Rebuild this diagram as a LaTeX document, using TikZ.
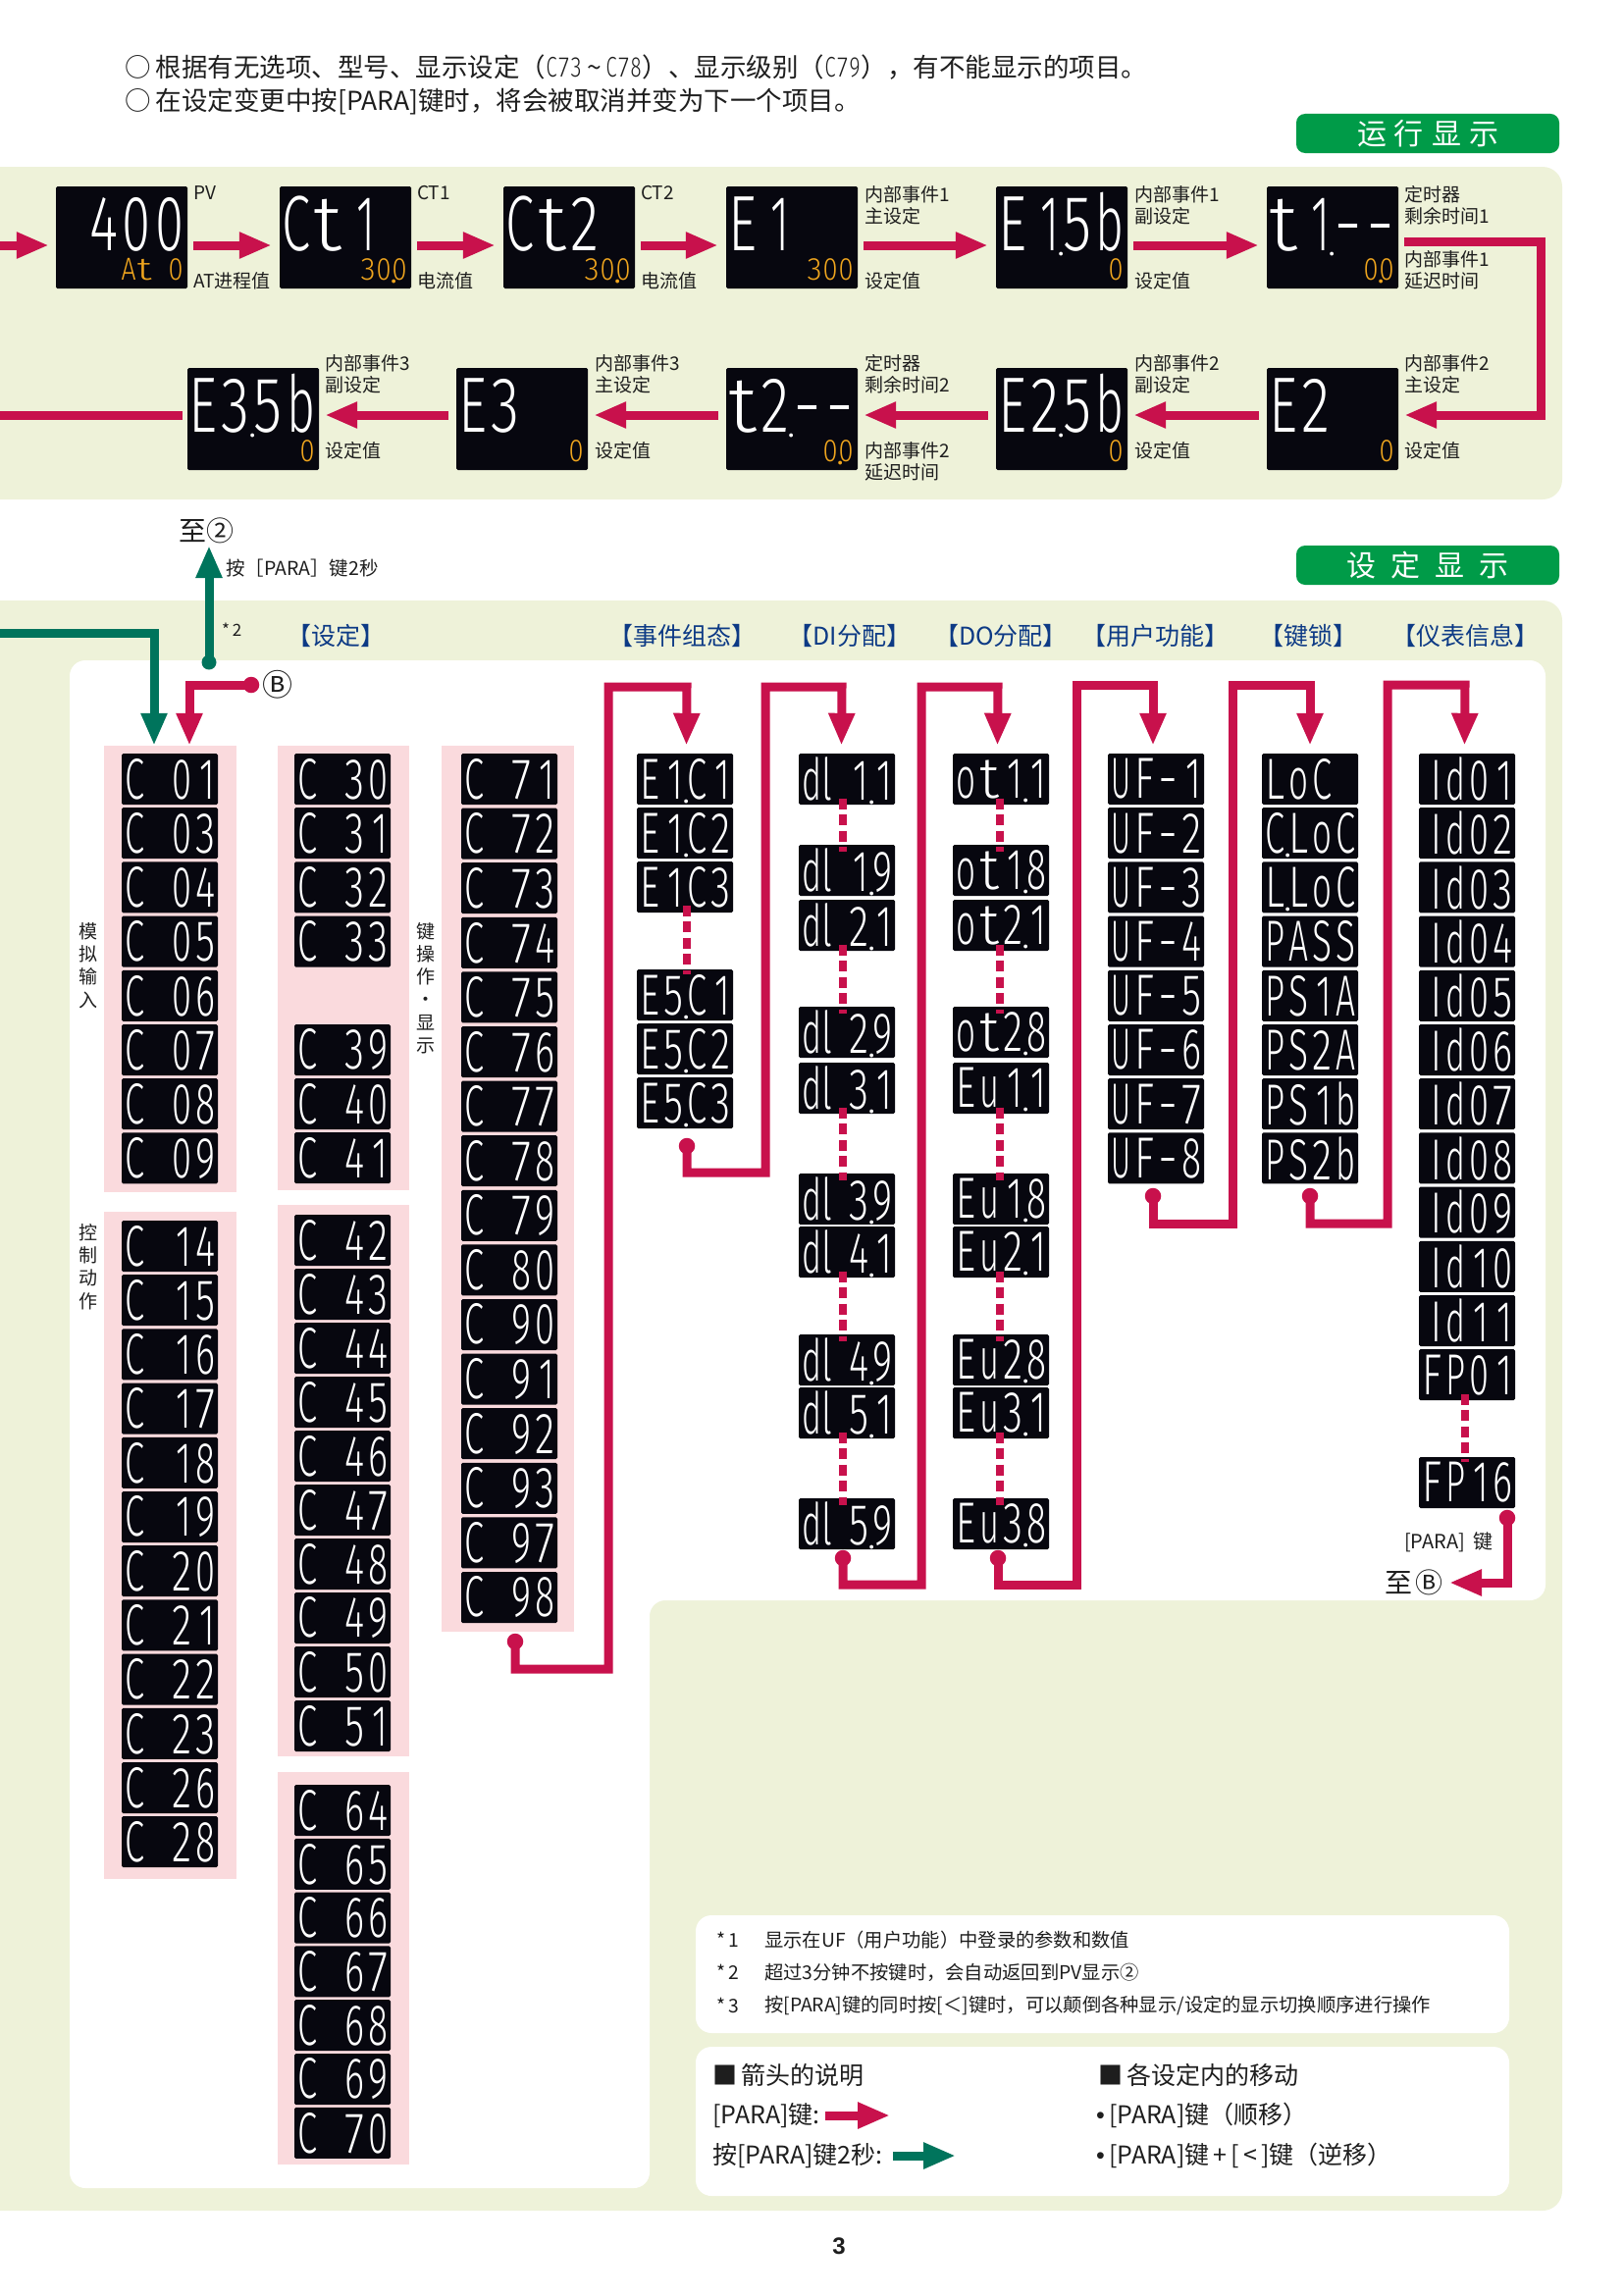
\documentclass[tikz,border=0pt]{standalone}
\usepackage{fontspec}
\usepackage{graphicx}
\usetikzlibrary{arrows.meta,calc}
\setmainfont{Noto Sans CJK SC}
\newfontfamily\lcdfamily{Fira Sans Light}
\newfontfamily\arialfamily{Liberation Sans}
\definecolor{cr}{HTML}{C8114C}
\definecolor{gn}{HTML}{00745C}
\definecolor{badge}{HTML}{009B48}
\definecolor{panel}{HTML}{EEF2D9}
\definecolor{pk}{HTML}{FADADD}
\definecolor{lcdbg}{HTML}{07070F}
\definecolor{amber}{HTML}{EFA51E}
\definecolor{hblue}{HTML}{0D3A85}
\definecolor{ink}{HTML}{1E1E1E}
% seven-segment look: every character in a fixed cell, stretched tall
\def\lcdend{\lcdend}
\newcommand\lcdset[7]{\lcdfamily\fontsize{20}{20}\selectfont
  \def\lcdW{#1}\def\lcdP{#2}\def\lcdSY{#3}\def\lcdSX{#4}\def\lcdG{#5}\def\lcdDK{#6}\def\lcdDR{#7}}
\def\lcdloop#1{\ifx#1\lcdend\else
  \ifx.#1\rlap{\kern\lcdDK\smash{\raisebox{\lcdDR}{\scalebox{2}{.}}}}\else
  \ifx*#1\hbox to\lcdP{}\else
  \ifx l#1\hbox to\lcdP{\kern-1.5pt\scalebox{\lcdSX}[\lcdSY]{l}\hss}\else
  \hbox to\lcdP{\hss\scalebox{1}[\lcdSY]{\ifx1#1\scalebox{\lcdSX}[1]{1}\else\ifx I#1\scalebox{\lcdSX}[1]{I}\else\resizebox{\lcdW}{\height}{#1}\fi\fi}\kern\lcdG}%
  \fi\fi\fi\expandafter\lcdloop\fi}
\newcommand\lcdshow[1]{\hbox{\expandafter\lcdloop#1\lcdend}}
\newcommand\inlcd[1]{\hbox{\lcdset{11pt}{12.5pt}{1.45}{1.0}{1pt}{-2pt}{-2pt}\expandafter\lcdloop#1\lcdend}}
\tikzset{
  x=1pt,y=-1pt,
  lcdsm/.style={fill=lcdbg,rounded corners=1.5pt,minimum width=98pt,minimum height=52pt,inner sep=0pt,text=white,
    font={\lcdset{20pt}{24pt}{2.95}{1.9}{1.5pt}{-2.5pt}{-4pt}}},
  lcdbox/.style={fill=lcdbg,rounded corners=1.5pt,minimum width=134pt,minimum height=104pt,inner sep=0pt},
  lcdtop/.style={anchor=base east,inner sep=0pt,text=white,
    font={\lcdset{29pt}{33pt}{4.0}{2.3}{1pt}{-3pt}{-5pt}}},
  lcdbot/.style={anchor=base east,inner sep=0pt,text=amber,
    font={\lcdset{15pt}{16pt}{1.62}{1.2}{.5pt}{-2pt}{-3pt}}},
  lab/.style={anchor=west,inner sep=0pt,text=ink,font=\fontsize{19}{22}\selectfont},
  vlab/.style={inner sep=0pt,text=ink,align=center,font=\fontsize{19}{23.3}\selectfont},
  head/.style={inner sep=0pt,text=hblue,font=\fontsize{25}{27}\selectfont},
  badgebox/.style={fill=badge,rounded corners=9pt,minimum width=268pt,minimum height=40pt,inner sep=0pt,text=white,font=\fontsize{30}{32}\selectfont},
  redarrow/.style={draw=cr,line width=9pt,-{Triangle[length=33pt,width=25pt]}},
  greenarrow/.style={draw=gn,line width=9pt,-{Triangle[length=33pt,width=25pt]}},
  redline/.style={draw=cr,line width=9pt},
  redstart/.style={circle,fill=cr,minimum size=16.5pt,inner sep=0pt},
  greenstart/.style={circle,fill=gn,minimum size=15pt,inner sep=0pt},
  dotv/.style={draw=cr,line width=8pt,dash pattern=on 11pt off 5.5pt},
  note/.style={anchor=west,inner sep=0pt,text=ink,font=\fontsize{19.3}{22}\selectfont},
  leg/.style={anchor=west,inner sep=0pt,text=ink,font=\fontsize{25}{28}\selectfont},
  top/.style={anchor=west,inner sep=0pt,text=ink,font=\fontsize{26.5}{29}\selectfont},
}
% regular column: prefix, left x, first y, pitch, list
\newcommand\lcdcol[5]{\foreach \t [count=\i] in {#5}{%
  \node[lcdsm] (#1\i) at ({#2+49},{#3+(\i-1)*#4+26}) {\lcdshow\t};}}
% irregular column: prefix, left x, list of text/y
\newcommand\lcdlist[3]{\foreach \t/\yy [count=\i] in {#3}{%
  \node[lcdsm] (#1\i) at ({#2+49},{\yy+26}) {\lcdshow\t};}}
% large two-line display: name, left x, top y, upper, lower
\newcommand\biglcd[5]{%
  \node[lcdbox] (#1) at ({#2+67},{#3+52}) {};
  \node[lcdtop] (#1t) at ($(#1.north east)+(-3,66)$) {\lcdshow{#4}};
  \node[lcdbot] (#1b) at ($(#1.north east)+(-4,96)$) {\lcdshow{#5}};}
\begin{document}
\begin{tikzpicture}
\useasboundingbox (0,0) rectangle (1654,2339);
% panels
\fill[panel] (0,170) [rounded corners=20pt] -- (1592,170) -- (1592,509) [sharp corners] -- (0,509) -- cycle;
\fill[panel] (0,612) [rounded corners=20pt] -- (1592,612) -- (1592,2253) [sharp corners] -- (0,2253) -- cycle;
\fill[white,rounded corners=16pt] (71,673) -- (1575,673) -- (1575,1631) -- (662,1631) -- (662,2230) -- (71,2230) -- cycle;
\fill[white,rounded corners=16pt] (709,1952) rectangle (1538,2072);
\fill[white,rounded corners=16pt] (709,2086) rectangle (1538,2238);
\node[badgebox] (runbadge) at (1455,136) {运\hspace{8pt}行\hspace{8pt}显\hspace{8pt}示};
\node[badgebox] (setbadge) at (1455,576) {设\hspace{15pt}定\hspace{15pt}显\hspace{15pt}示};
% intro text
\node[top] (intro1) at (127,69) {○\hspace{5pt}根据有无选项、型号、显示设定（\inlcd{C73}\,\string~\,\inlcd{C78}）、显示级别（\inlcd{C79}），有不能显示的项目。};
\node[top] (intro2) at (127,104) {○\hspace{5pt}在设定变更中按[PARA]键时，将会被取消并变为下一个项目。};
% run displays
\biglcd{pv}{57}{190}{*400}{At*0}
\biglcd{ctA}{285}{190}{Ct1*}{30.0}
\biglcd{ctB}{513}{190}{Ct2*}{30.0}
\biglcd{evA}{740}{190}{E1**}{300}
\biglcd{evAs}{1015}{190}{E1.5b}{0}
\biglcd{tmA}{1291}{190}{t1.--}{0.0}
\biglcd{evB}{1291}{375}{E2**}{0}
\biglcd{evBs}{1015}{375}{E2.5b}{0}
\biglcd{tmB}{740}{375}{t2.--}{0.0}
\biglcd{evC}{465}{375}{E3**}{0}
\biglcd{evCs}{191}{375}{E3.5b}{0}
% run labels
\node[lab] (l01) at (197,197) {PV};
\node[lab] (l02) at (197,286) {AT进程值};
\node[lab] (l03) at (425,197) {CT1};
\node[lab] (l04) at (425,286) {电流值};
\node[lab] (l05) at (653,197) {CT2};
\node[lab] (l06) at (653,286) {电流值};
\node[lab] (l07) at (881,198) {内部事件1};
\node[lab] (l08) at (881,220) {主设定};
\node[lab] (l09) at (881,286) {设定值};
\node[lab] (l10) at (1156,198) {内部事件1};
\node[lab] (l11) at (1156,220) {副设定};
\node[lab] (l12) at (1156,286) {设定值};
\node[lab] (l13) at (1431,198) {定时器};
\node[lab] (l14) at (1431,220) {剩余时间1};
\node[lab] (l15) at (1431,264) {内部事件1};
\node[lab] (l16) at (1431,286) {延迟时间};
\node[lab] (l17) at (1431,370) {内部事件2};
\node[lab] (l18) at (1431,392) {主设定};
\node[lab] (l19) at (1431,459) {设定值};
\node[lab] (l20) at (1156,370) {内部事件2};
\node[lab] (l21) at (1156,392) {副设定};
\node[lab] (l22) at (1156,459) {设定值};
\node[lab] (l23) at (881,370) {定时器};
\node[lab] (l24) at (881,392) {剩余时间2};
\node[lab] (l25) at (881,459) {内部事件2};
\node[lab] (l26) at (881,481) {延迟时间};
\node[lab] (l27) at (606,370) {内部事件3};
\node[lab] (l28) at (606,392) {主设定};
\node[lab] (l29) at (606,459) {设定值};
\node[lab] (l30) at (331,370) {内部事件3};
\node[lab] (l31) at (331,392) {副设定};
\node[lab] (l32) at (331,459) {设定值};
% run arrows
\coordinate (inrun) at (0,250);
\coordinate (outrun) at (0,423);
\draw[redarrow,shorten >=7pt] (inrun) -- ([yshift=-8pt]pv.west);
\foreach \a/\b in {pv/ctA,ctA/ctB,ctB/evA,evA/evAs,evAs/tmA}
  \draw[redarrow,shorten <=6pt,shorten >=8pt] ([yshift=-8pt]\a.east) -- ([yshift=-8pt]\b.west);
\draw[redarrow,shorten >=6pt] ([xshift=6pt,yshift=-4pt]tmA.east) -- (1570,246) -- (1570,423) -- ([yshift=4pt]evB.east);
\foreach \a/\b in {evB/evBs,evBs/tmB,tmB/evC,evC/evCs}
  \draw[redarrow,shorten <=8pt,shorten >=6pt] ([yshift=4pt]\a.west) -- ([yshift=4pt]\b.east);
\draw[redline] ([xshift=-5pt,yshift=4pt]evCs.west) -- (outrun);
% setting area headings
\node[head] (h1) at (342,648) {【设定】};
\node[head] (h2) at (695,648) {【事件组态】};
\node[head] (h3) at (866,648) {【DI分配】};
\node[head] (h4) at (1020,648) {【DO分配】};
\node[head] (h5) at (1177,648) {【用户功能】};
\node[head] (h6) at (1333,648) {【键锁】};
\node[head] (h7) at (1493,648) {【仪表信息】};
% pink groups
\fill[pk] (106,760) rectangle (241,1215);
\fill[pk] (106,1235) rectangle (241,1915);
\fill[pk] (283,760) rectangle (417,1213);
\fill[pk] (283,1228) rectangle (417,1790);
\fill[pk] (283,1806) rectangle (417,2206);
\fill[pk] (450,760) rectangle (585,1663);
\node[vlab] (v1) at (90,984) {模\\拟\\输\\入};
\node[vlab] (v2) at (90,1291) {控\\制\\动\\作};
\node[vlab] (v3) at (434,1007) {键\\操\\作\\·\\显\\示};
% columns of small displays
\lcdcol{a}{124}{768}{55.2}{C*01,C*03,C*04,C*05,C*06,C*07,C*08,C*09}
\lcdcol{b}{124}{1244}{55.2}{C*14,C*15,C*16,C*17,C*18,C*19,C*20,C*21,C*22,C*23,C*26,C*28}
\lcdcol{c}{300}{768}{55.2}{C*30,C*31,C*32,C*33}
\lcdcol{d}{300}{1044}{55}{C*39,C*40,C*41}
\lcdcol{e}{300}{1238}{55}{C*42,C*43,C*44,C*45,C*46,C*47,C*48,C*49,C*50,C*51}
\lcdcol{f}{300}{1819}{54.8}{C*64,C*65,C*66,C*67,C*68,C*69,C*70}
\lcdcol{g}{470}{768}{55.6}{C*71,C*72,C*73,C*74,C*75,C*76,C*77,C*78,C*79,C*80,C*90,C*91,C*92,C*93,C*97,C*98}
\lcdcol{ea}{649}{768}{55}{E1.C1,E1.C2,E1.C3}
\lcdcol{eb}{649}{988}{55}{E5.C1,E5.C2,E5.C3}
\lcdlist{di}{814}{dl1.1/768,dl1.9/861,dl2.1/917,dl2.9/1026,dl3.1/1083,dl3.9/1196,dl4.1/1250,dl4.9/1360,dl5.1/1414,dl5.9/1527}
\lcdlist{do}{971}{ot1.1/768,ot1.8/861,ot2.1/917,ot2.8/1026,Eu1.1/1083,Eu1.8/1196,Eu2.1/1250,Eu2.8/1360,Eu3.1/1414,Eu3.8/1527}
\lcdcol{uf}{1129}{768}{55.2}{UF-1,UF-2,UF-3,UF-4,UF-5,UF-6,UF-7,UF-8}
\lcdcol{lk}{1286}{768}{55.2}{LoC*,C.LoC,L.LoC,PASS,PS1A,PS2A,PS1b,PS2b}
\lcdcol{in}{1446}{768}{55.2}{Id01,Id02,Id03,Id04,Id05,Id06,Id07,Id08,Id09,Id10,Id11,FP01}
\node[lcdsm] (in13) at (1495,1511) {\lcdshow{FP16}};
% dotted continuations
\draw[dotv] ([xshift=1.5pt,yshift=7.5pt]ea3.south) -- ([xshift=1.5pt,yshift=-5pt]eb1.north);
\foreach \p/\q in {1/2,3/4,5/6,7/8,9/10}{
  \draw[dotv] ([xshift=-4.5pt,yshift=6.5pt]di\p.south) -- ([xshift=-4.5pt,yshift=-7pt]di\q.north);
  \draw[dotv] ([xshift=-1.5pt,yshift=6.5pt]do\p.south) -- ([xshift=-1.5pt,yshift=-7pt]do\q.north);
}
\draw[dotv] ([xshift=-2pt,yshift=6.5pt]in12.south) -- ([xshift=-2pt,yshift=-5pt]in13.north);
% green arrows and red links
\coordinate (fromrun) at (0,645);
\draw[greenarrow] (fromrun) -- (157,645) -- ([xshift=-16pt,yshift=8pt]a1.north);
\node[greenstart] (gs) at (213,675) {};
\coordinate (greentip) at (213,556);
\draw[greenarrow] (gs.center) -- (greentip);
\node[inner sep=0pt,text=ink,font=\fontsize{28}{30}\selectfont] (to2) at (210,541) {至②};
\node[lab,font=\fontsize{19.5}{21}\selectfont] (pk2) at (230,579) {按［PARA］键2秒};
\node[lab,font=\fontsize{17}{20}\selectfont] (star2) at (226,642) {*\,2};
\node[redstart] (sb) at (256,698) {};
\node[inner sep=0pt,text=ink,font=\fontsize{31}{33}\selectfont] (cb) at (283,698) {Ⓑ};
\draw[redarrow] (sb.center) -- (193,698) -- ([xshift=20pt,yshift=8pt]a1.north);
\node[redstart] (s1) at (525,1673) {};
\draw[redarrow] (s1.center) -- (525,1701) -- (620,1701) -- (620,700) -- (700,700) -- ([xshift=1.5pt,yshift=8pt]ea1.north);
\node[redstart] (s2) at (700,1168) {};
\draw[redarrow] (s2.center) -- (700,1195) -- (780,1195) -- (780,700) -- (858,700) -- ([xshift=-5.5pt,yshift=8pt]di1.north);
\node[redstart] (s3) at (859,1588) {};
\draw[redarrow] (s3.center) -- (859,1615) -- (939,1615) -- (939,700) -- (1017,700) -- ([xshift=-3.5pt,yshift=8pt]do1.north);
\node[redstart] (s4) at (1017,1588) {};
\draw[redarrow] (s4.center) -- (1017,1615) -- (1097,1615) -- (1097,698) -- (1175,698) -- ([xshift=-3pt,yshift=8pt]uf1.north);
\node[redstart] (s5) at (1175,1219) {};
\draw[redarrow] (s5.center) -- (1175,1247) -- (1256,1247) -- (1256,698) -- (1335,698) -- ([yshift=8pt]lk1.north);
\node[redstart] (s6) at (1335,1219) {};
\draw[redarrow] (s6.center) -- (1335,1247) -- (1414,1247) -- (1414,698) -- (1493,698) -- ([xshift=-2.5pt,yshift=8pt]in1.north);
\node[redstart] (s7) at (1536,1547) {};
\coordinate (backb) at (1477,1613);
\draw[redarrow] (s7.center) -- (1536,1613) -- (backb);
\node[lab,font=\fontsize{20}{22}\selectfont] (pkb) at (1431,1572) {[PARA]\hspace{8pt}键};
\node[inner sep=0pt,text=ink,font=\fontsize{28}{30}\selectfont] (tob) at (1441,1613) {至\hspace{3pt}Ⓑ};
% notes
\node[note] (n1a) at (730,1977) {*\,1};
\node[note] (n1b) at (779,1977) {显示在UF（用户功能）中登录的参数和数值};
\node[note] (n2a) at (730,2010) {*\,2};
\node[note] (n2b) at (779,2010) {超过3分钟不按键时，会自动返回到PV显示②};
\node[note] (n3a) at (730,2044) {*\,3};
\node[note] (n3b) at (779,2044) {按[PARA]键的同时按[＜]键时，可以颠倒各种显示/设定的显示切换顺序进行操作};
% legend
\node[leg] (t1) at (726,2115) {■\,箭头的说明};
\node[leg] (t2) at (1119,2115) {■\,各设定内的移动};
\node[leg] (t3) at (726,2156) {[PARA]键:};
\node[leg] (t4) at (726,2197) {按[PARA]键2秒:};
\node[leg] (t5) at (1117,2156) {{\arialfamily•}\,[PARA]键（顺移）};
\node[leg] (t6) at (1117,2197) {{\arialfamily•}\,[PARA]键\,+\,[\,<\,]键（逆移）};
\coordinate (la) at (841,2156);
\coordinate (lb) at (907,2156);
\coordinate (lc) at (910,2197);
\coordinate (ld) at (974,2197);
\draw[redarrow] (la) -- (lb);
\draw[greenarrow] (lc) -- (ld);
\node[inner sep=0pt,text=ink,font={\arialfamily\bfseries\fontsize{24}{26}\selectfont}] (pageno) at (855,2289) {3};
\end{tikzpicture}
\end{document}
